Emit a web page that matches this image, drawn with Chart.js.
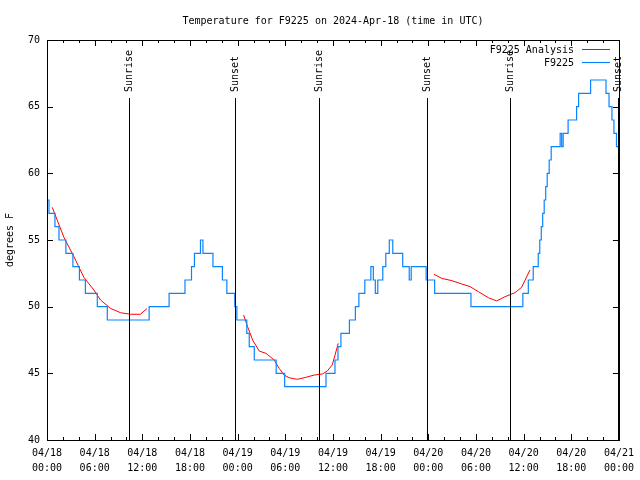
<!DOCTYPE html>
<html lang="en">
<head>
<meta charset="UTF-8">
<title>Temperature for F9225</title>
<script src="https://cdn.jsdelivr.net/npm/chart.js@4.4.1/dist/chart.umd.min.js"></script>
<style>
  body { margin: 0; background: #fff; }
  canvas { display: block; }
</style>
</head>
<body>
<canvas id="tempChart" width="640" height="480"></canvas>
<script>
// hours since 04/18 00:00 UTC
const obsHours = [0, 0.25, 1.0, 1.51, 2.38, 3.26, 4.08, 4.83, 6.33, 7.59, 12.86, 15.37, 17.37, 18.19, 18.56,
  19.32, 19.63, 20.89, 22.08, 22.64, 23.64, 23.90, 25.15, 25.46, 26.09, 28.85, 29.92, 35.12, 36.25, 36.63,
  37.00, 38.07, 38.82, 39.26, 40.01, 40.77, 41.08, 41.33, 41.64, 42.27, 42.65, 43.09, 43.53, 44.78, 45.60,
  45.85, 47.73, 48.80, 53.37, 59.90, 60.59, 61.21, 61.84, 62.03, 62.22, 62.40, 62.59, 62.78, 62.97, 63.22,
  63.47, 64.60, 64.79, 64.98, 65.60, 66.67, 66.92, 68.43, 70.37, 70.75, 71.12, 71.37, 71.69, 71.94];
const obsTemps = [58, 57, 56, 55, 54, 53, 52, 51, 50, 49, 50, 51, 52, 53, 54,
  55, 54, 53, 52, 51, 50, 49, 48, 47, 46, 45, 44, 45, 46, 47,
  48, 49, 50, 51, 52, 53, 52, 51, 52, 53, 54, 55, 54, 53, 52,
  53, 52, 51, 50, 51, 52, 53, 54, 55, 56, 57, 58, 59, 60, 61,
  62, 63, 62, 63, 64, 65, 66, 67, 66, 65, 64, 63, 62, 62];

const anaHours1 = [0.66, 2.13, 3.39, 4.64, 5.90, 6.74, 7.99, 9.24, 10.50, 11.75, 12.58];
const anaTemps1 = [57.45, 55.2, 53.75, 52.2, 51.25, 50.5, 49.87, 49.55, 49.43, 49.43, 49.85];
const anaHours2 = [24.75, 25.25, 25.88, 26.72, 27.56, 28.60, 29.23, 29.85, 30.48, 31.52, 32.58, 33.62, 34.66, 35.29, 35.91, 36.67];
const anaTemps2 = [49.37, 48.5, 47.5, 46.67, 46.5, 46.0, 45.37, 44.87, 44.67, 44.55, 44.7, 44.87, 44.95, 45.18, 45.63, 47.25];
const anaHours3 = [48.71, 49.71, 50.97, 52.22, 53.27, 54.31, 55.57, 56.61, 57.66, 58.91, 59.75, 60.80];
const anaTemps3 = [52.43, 52.12, 51.95, 51.7, 51.5, 51.12, 50.67, 50.43, 50.75, 51.05, 51.45, 52.75];

const sunHours = [10.29, 23.71, 34.25, 47.79, 58.33, 71.88];
const sunLabels = ['Sunrise', 'Sunset', 'Sunrise', 'Sunset', 'Sunrise', 'Sunset'];

const xTickLabels = [
  ['04/18', '00:00'], ['04/18', '06:00'], ['04/18', '12:00'], ['04/18', '18:00'],
  ['04/19', '00:00'], ['04/19', '06:00'], ['04/19', '12:00'], ['04/19', '18:00'],
  ['04/20', '00:00'], ['04/20', '06:00'], ['04/20', '12:00'], ['04/20', '18:00'],
  ['04/21', '00:00']
];

const MONO = '"DejaVu Sans Mono", "Liberation Mono", monospace';

function toPoints(hours, temps) {
  return hours.map((h, i) => ({ x: h, y: temps[i] }));
}

// analysis segments joined with gaps
const analysisData = toPoints(anaHours1, anaTemps1)
  .concat([{ x: 13, y: null }], toPoints(anaHours2, anaTemps2))
  .concat([{ x: 37, y: null }], toPoints(anaHours3, anaTemps3));

const gnuplotDecor = {
  id: 'gnuplotDecor',
  afterDatasetsDraw(chart) {
    const ctx = chart.ctx;
    const { left, right, top, bottom } = chart.chartArea;
    const xs = chart.scales.x, ys = chart.scales.y;
    ctx.save();
    ctx.strokeStyle = '#000';
    ctx.fillStyle = '#000';
    ctx.lineWidth = 1;

    // frame
    ctx.strokeRect(Math.round(left) + 0.5, Math.round(top) + 0.5, Math.round(right - left), Math.round(bottom - top));

    // inward ticks
    ctx.beginPath();
    for (let h = 0; h <= 72; h += 2) {
      const x = Math.round(xs.getPixelForValue(h)) + 0.5;
      const len = h % 6 === 0 ? 6 : 3;
      ctx.moveTo(x, bottom); ctx.lineTo(x, bottom - len);
      ctx.moveTo(x, top); ctx.lineTo(x, top + len);
    }
    for (let v = 40; v <= 70; v += 5) {
      const y = Math.round(ys.getPixelForValue(v)) + 0.5;
      ctx.moveTo(left, y); ctx.lineTo(left + 6, y);
      ctx.moveTo(right, y); ctx.lineTo(right - 6, y);
    }
    ctx.stroke();

    // sunrise / sunset markers
    ctx.font = '10px ' + MONO;
    sunHours.forEach((h, i) => {
      const x = Math.round(xs.getPixelForValue(h)) + 0.5;
      ctx.beginPath();
      ctx.moveTo(x, top + 58);
      ctx.lineTo(x, bottom);
      ctx.stroke();
      ctx.save();
      ctx.translate(x, top + 52);
      ctx.rotate(-Math.PI / 2);
      ctx.textAlign = 'left';
      ctx.textBaseline = 'middle';
      ctx.fillText(sunLabels[i], 0, 0);
      ctx.restore();
    });

    // title
    ctx.textAlign = 'center';
    ctx.textBaseline = 'middle';
    ctx.fillText('Temperature for F9225 on 2024-Apr-18 (time in UTC)', (left + right) / 2, 21);

    // key
    ctx.textAlign = 'right';
    const keyItems = [chart.data.datasets[0], chart.data.datasets[1]];
    keyItems.forEach((ds, i) => {
      const y = 50 + i * 13;
      ctx.fillStyle = '#000';
      ctx.fillText(ds.label, 574, y);
      ctx.strokeStyle = ds.borderColor;
      ctx.lineWidth = ds.borderWidth;
      ctx.beginPath();
      ctx.moveTo(582, y - 0.5);
      ctx.lineTo(610, y - 0.5);
      ctx.stroke();
    });
    ctx.restore();
  }
};

new Chart(document.getElementById('tempChart'), {
  type: 'line',
  data: {
    datasets: [
      {
        label: 'F9225 Analysis',
        data: analysisData,
        borderColor: '#ff0000',
        borderWidth: 1,
        pointRadius: 0,
        spanGaps: false,
        order: 1
      },
      {
        label: 'F9225',
        data: toPoints(obsHours, obsTemps),
        borderColor: '#0a84ff',
        borderWidth: 1.2,
        pointRadius: 0,
        stepped: true,
        order: 0
      }
    ]
  },
  options: {
    responsive: false,
    animation: false,
    devicePixelRatio: 1,
    layout: { padding: { top: 40, right: 18, left: 0, bottom: 0 } },
    plugins: {
      legend: { display: false },
      tooltip: { enabled: false }
    },
    scales: {
      x: {
        type: 'linear',
        min: 0,
        max: 72,
        afterFit: s => { s.height = 40; },
        grid: { display: false, drawTicks: false },
        border: { display: false },
        ticks: {
          stepSize: 6,
          autoSkip: false,
          maxRotation: 0,
          padding: 6,
          color: '#000',
          font: { family: MONO, size: 10, lineHeight: 1.5 },
          callback: v => (v % 6 === 0 ? xTickLabels[v / 6] : '')
        }
      },
      y: {
        min: 40,
        max: 70,
        afterFit: s => { s.width = 47; },
        grid: { display: false, drawTicks: false },
        border: { display: false },
        title: {
          display: true,
          text: 'degrees F',
          color: '#000',
          font: { family: MONO, size: 10 },
          padding: { top: 4, bottom: 0 }
        },
        ticks: {
          stepSize: 5,
          padding: 7,
          color: '#000',
          font: { family: MONO, size: 10 }
        }
      }
    }
  },
  plugins: [gnuplotDecor]
});
</script>
</body>
</html>
